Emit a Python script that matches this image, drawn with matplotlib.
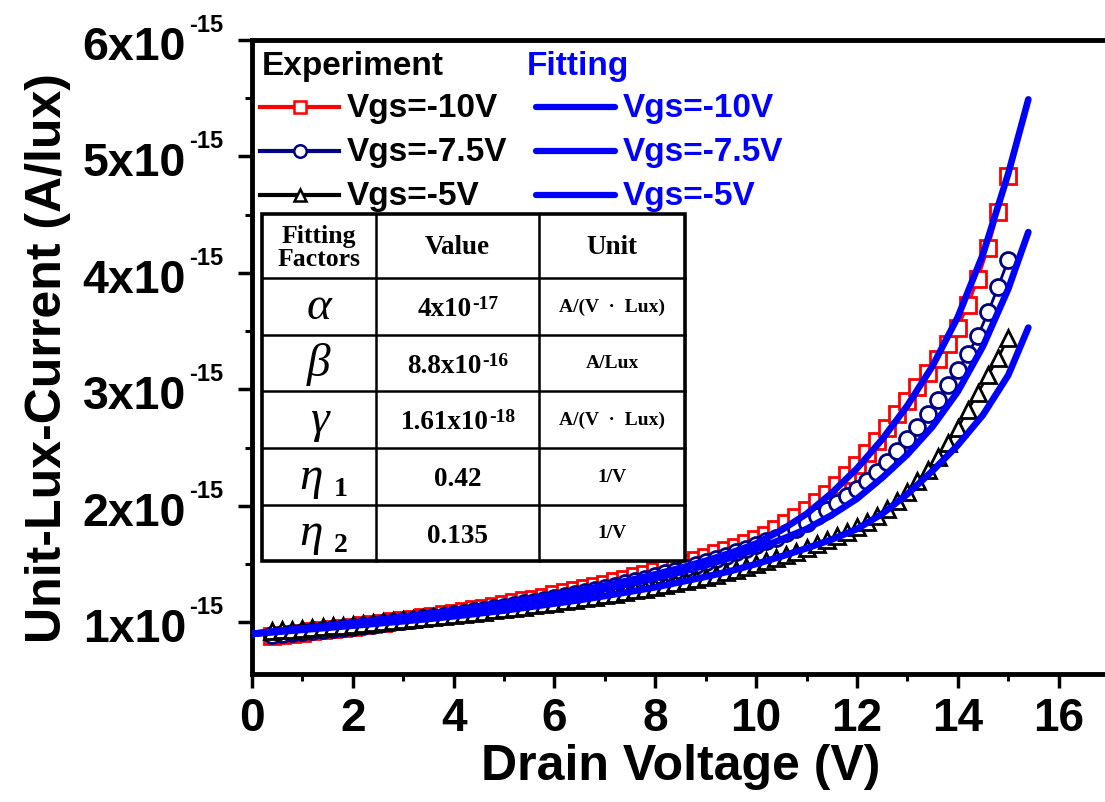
import numpy as np
import matplotlib
matplotlib.use('Agg')
import matplotlib.pyplot as plt
from matplotlib.lines import Line2D
from matplotlib.patches import Rectangle
from matplotlib.ticker import MultipleLocator, NullFormatter
from matplotlib.transforms import blended_transform_factory, offset_copy

plt.rcParams['font.family'] = 'Liberation Sans'
plt.rcParams['font.weight'] = 'bold'

# measured points (Vd in V, current in 1e-15 A/lux)
vd_exp = np.round(np.linspace(0.4, 15.0, 74), 1)
i_exp_10 = [0.885, 0.893, 0.902, 0.911, 0.921, 0.931, 0.941, 0.951, 0.962, 0.973,
            0.984, 0.995, 1.007, 1.019, 1.031, 1.044, 1.057, 1.070, 1.083, 1.097,
            1.111, 1.125, 1.140, 1.155, 1.171, 1.187, 1.203, 1.220, 1.238, 1.256,
            1.274, 1.293, 1.312, 1.332, 1.352, 1.373, 1.394, 1.416, 1.438, 1.461,
            1.485, 1.510, 1.536, 1.563, 1.591, 1.620, 1.650, 1.681, 1.713, 1.750,
            1.800, 1.850, 1.905, 1.960, 2.030, 2.100, 2.180, 2.265, 2.350, 2.450,
            2.560, 2.670, 2.790, 2.900, 3.020, 3.140, 3.260, 3.390, 3.530, 3.720,
            3.950, 4.210, 4.520, 4.830]
i_exp_75 = [0.890, 0.898, 0.906, 0.914, 0.923, 0.932, 0.941, 0.950, 0.960, 0.970,
            0.980, 0.990, 1.000, 1.011, 1.022, 1.033, 1.044, 1.056, 1.068, 1.080,
            1.093, 1.106, 1.119, 1.133, 1.147, 1.161, 1.176, 1.191, 1.207, 1.223,
            1.240, 1.257, 1.275, 1.294, 1.313, 1.333, 1.353, 1.374, 1.396, 1.419,
            1.442, 1.466, 1.491, 1.517, 1.544, 1.572, 1.601, 1.631, 1.662, 1.694,
            1.727, 1.762, 1.800, 1.850, 1.910, 1.960, 2.020, 2.080, 2.145, 2.210,
            2.290, 2.380, 2.470, 2.570, 2.680, 2.790, 2.910, 3.040, 3.170, 3.300,
            3.460, 3.660, 3.880, 4.110]
i_exp_5 = [0.925, 0.931, 0.937, 0.943, 0.950, 0.957, 0.964, 0.971, 0.978, 0.986,
           0.994, 1.002, 1.010, 1.018, 1.026, 1.035, 1.044, 1.053, 1.062, 1.071,
           1.081, 1.091, 1.101, 1.111, 1.122, 1.133, 1.144, 1.155, 1.167, 1.179,
           1.191, 1.204, 1.217, 1.230, 1.244, 1.258, 1.273, 1.288, 1.304, 1.320,
           1.337, 1.354, 1.372, 1.390, 1.409, 1.428, 1.448, 1.472, 1.497, 1.523,
           1.550, 1.578, 1.607, 1.638, 1.670, 1.703, 1.738, 1.775, 1.815, 1.860,
           1.910, 1.970, 2.040, 2.120, 2.210, 2.310, 2.420, 2.540, 2.670, 2.820,
           2.970, 3.120, 3.270, 3.440]

# model curves
vd_fit = np.append(np.arange(0, 15.01, 0.5), 15.4)
i_fit_10 = [0.900, 0.923, 0.946, 0.970, 0.995, 1.020, 1.046, 1.073, 1.101, 1.131,
            1.163, 1.197, 1.234, 1.273, 1.315, 1.361, 1.411, 1.466, 1.527, 1.596,
            1.675, 1.790, 1.930, 2.110, 2.320, 2.570, 2.860, 3.200, 3.620, 4.160,
            4.850, 5.490]
i_fit_75 = [0.900, 0.921, 0.942, 0.964, 0.987, 1.010, 1.034, 1.059, 1.085, 1.113,
            1.142, 1.174, 1.208, 1.245, 1.285, 1.329, 1.377, 1.430, 1.489, 1.554,
            1.627, 1.710, 1.800, 1.920, 2.060, 2.240, 2.440, 2.680, 2.980, 3.370,
            3.860, 4.350]
i_fit_5 = [0.900, 0.917, 0.934, 0.952, 0.970, 0.989, 1.008, 1.028, 1.050, 1.075,
           1.100, 1.130, 1.160, 1.190, 1.225, 1.262, 1.300, 1.345, 1.390, 1.440,
           1.500, 1.565, 1.635, 1.710, 1.800, 1.930, 2.100, 2.300, 2.520, 2.780,
           3.120, 3.530]

vgs_labels = ['Vgs=-10V', 'Vgs=-7.5V', 'Vgs=-5V']
y_major = [1, 2, 3, 4, 5, 6]

# fitting factor table
tab_header = ['Fitting\nFactors', 'Value', 'Unit']
tab_symbols = ['α', 'β', 'γ', 'η', 'η']
tab_subs = ['', '', '', '1', '2']
tab_mant = ['4x10', '8.8x10', '1.61x10', '0.42', '0.135']
tab_exp = ['-17', '-16', '-18', '', '']
tab_units = ['A/(V  ·  Lux)', 'A/Lux', 'A/(V  ·  Lux)', '1/V', '1/V']

W, H = 1105, 803
fig = plt.figure(figsize=(W / 100, H / 100), dpi=100)
ax = fig.add_axes([252 / W, (H - 675) / H, 857 / W, 634 / H])

def fxy(px, py):
    return px / W, 1 - py / H

scale = 1e-15
ax.plot(vd_exp, np.array(i_exp_10) * scale, color='red', lw=2, marker='s', ms=11,
        mfc='white', mec='red', mew=2, zorder=2)
ax.plot(vd_exp, np.array(i_exp_75) * scale, color='navy', lw=2, marker='o', ms=11.5,
        mfc='white', mec='navy', mew=2, zorder=3)
ax.plot(vd_exp, np.array(i_exp_5) * scale, color='black', lw=2, marker='^', ms=12,
        mfc='white', mec='black', mew=2, zorder=4)
for fit in (i_fit_10, i_fit_75, i_fit_5):
    ax.plot(vd_fit, np.array(fit) * scale, color='blue', lw=4.8,
            solid_capstyle='round', zorder=5)

ax.set_xlim(0, 17)
ax.set_ylim(0.555e-15, 6.0e-15)
ax.xaxis.set_major_locator(MultipleLocator(2))
ax.xaxis.set_minor_locator(MultipleLocator(1))
ax.yaxis.set_major_locator(MultipleLocator(1e-15))
ax.yaxis.set_minor_locator(MultipleLocator(0.5e-15))
ax.yaxis.set_major_formatter(NullFormatter())
ax.tick_params(which='major', direction='out', length=10, width=2.5)
ax.tick_params(which='minor', direction='out', length=5, width=2.2)
ax.tick_params(axis='x', which='major', labelsize=33, pad=6)
ax.tick_params(top=False, right=False)
for s in ax.spines.values():
    s.set_linewidth(3.5)

# y tick labels written as "Nx10" with a raised "-15"
ytrans = blended_transform_factory(fig.transFigure, ax.transData)
for v in y_major:
    fig.text(186 / W, v * scale, '%dx10' % v, fontsize=33.5, ha='right', va='baseline',
             transform=offset_copy(ytrans, fig=fig, y=-19, units='dots'))
    fig.text(189 / W, v * scale, '-15', fontsize=17, ha='left', va='baseline',
             transform=offset_copy(ytrans, fig=fig, y=9, units='dots'))

ax.set_xlabel('Drain Voltage (V)', fontsize=36, fontweight='bold', labelpad=2)
fig.text(48 / W, 1 - 358 / H, 'Unit-Lux-Current (A/lux)', fontsize=36,
         fontweight='bold', rotation=90, ha='center', va='center')

# legend
fig.text(*fxy(262, 66), 'Experiment', fontsize=24, fontweight='bold',
         color='black', ha='left', va='center')
fig.text(*fxy(527, 66), 'Fitting', fontsize=24, fontweight='bold',
         color='blue', ha='left', va='center')
exp_styles = [('red', 's'), ('navy', 'o'), ('black', '^')]
for k, (lab, (col, mk)) in enumerate(zip(vgs_labels, exp_styles)):
    yy = 108 + 44 * k
    x0, y0 = fxy(260, yy)
    x1, _ = fxy(339, yy)
    xm, _ = fxy(300, yy)
    fig.add_artist(Line2D([x0, x1], [y0, y0], color=col, lw=3))
    fig.add_artist(Line2D([xm], [y0], marker=mk, ms=9, mfc='white', mec=col, mew=1.8))
    fig.text(*fxy(347, yy), lab, fontsize=24, fontweight='bold', ha='left', va='center')
    b0, _ = fxy(536, yy)
    b1, _ = fxy(615, yy)
    fig.add_artist(Line2D([b0, b1], [y0, y0], color='blue', lw=4.5,
                          solid_capstyle='round'))
    fig.text(*fxy(623, yy), lab, fontsize=24, fontweight='bold', color='blue',
             ha='left', va='center')

# table of fitting factors
col_x = [262, 376, 539, 685]
row_y = [215, 279, 336, 392, 449, 506, 562]
lx, ty = fxy(col_x[0], row_y[0])
rx, by = fxy(col_x[-1], row_y[-1])
fig.add_artist(Rectangle((lx, by), rx - lx, ty - by, facecolor='white',
                         edgecolor='black', lw=2.6, zorder=6))
for cx in col_x[1:-1]:
    xx, _ = fxy(cx, 0)
    fig.add_artist(Line2D([xx, xx], [by, ty], color='black', lw=1.8, zorder=7))
for ry in row_y[1:-1]:
    _, yy = fxy(0, ry)
    fig.add_artist(Line2D([lx, rx], [yy, yy], color='black', lw=1.8, zorder=7))

serif = 'Liberation Serif'
renderer = fig.canvas.get_renderer()

def value_text(xc, yc, mant, expo):
    # mantissa plus a raised exponent, centred as one block
    t1 = fig.text(0, 0, mant, fontsize=19.5, fontweight='bold', family=serif,
                  ha='left', va='baseline', zorder=8)
    w1 = t1.get_window_extent(renderer).width
    w2 = 0
    if expo:
        t2 = fig.text(0, 0, expo, fontsize=14, fontweight='bold', family=serif,
                      ha='left', va='baseline', zorder=8)
        w2 = t2.get_window_extent(renderer).width
    x0 = xc - (w1 + w2) / 2
    t1.set_position(fxy(x0, yc + 9))
    if expo:
        t2.set_position(fxy(x0 + w1 + 1, yc + 2))

centers = [(col_x[i] + col_x[i + 1]) / 2 for i in range(3)]
fig.text(*fxy(centers[0], 248), tab_header[0], fontsize=18.5, fontweight='bold',
         family=serif, ha='center', va='center', linespacing=1.0, zorder=8)
fig.text(*fxy(centers[1], 248), tab_header[1], fontsize=19.5, fontweight='bold',
         family=serif, ha='center', va='center', zorder=8)
fig.text(*fxy(centers[2], 248), tab_header[2], fontsize=19.5, fontweight='bold',
         family=serif, ha='center', va='center', zorder=8)
for r in range(5):
    yc = (row_y[r + 1] + row_y[r + 2]) / 2
    sx = centers[0] - (8 if tab_subs[r] else 0)
    fig.text(*fxy(sx, yc), tab_symbols[r], fontsize=34, style='italic',
             fontweight='normal', family=serif, ha='center', va='center', zorder=8)
    if tab_subs[r]:
        fig.text(*fxy(sx + 30, yc + 12), tab_subs[r], fontsize=20, fontweight='bold',
                 family=serif, ha='center', va='center', zorder=8)
    value_text(centers[1], yc, tab_mant[r], tab_exp[r])
    fig.text(*fxy(centers[2], yc), tab_units[r], fontsize=14, fontweight='bold',
             family=serif, ha='center', va='center', zorder=8)

fig.savefig('out.png', dpi=100)
